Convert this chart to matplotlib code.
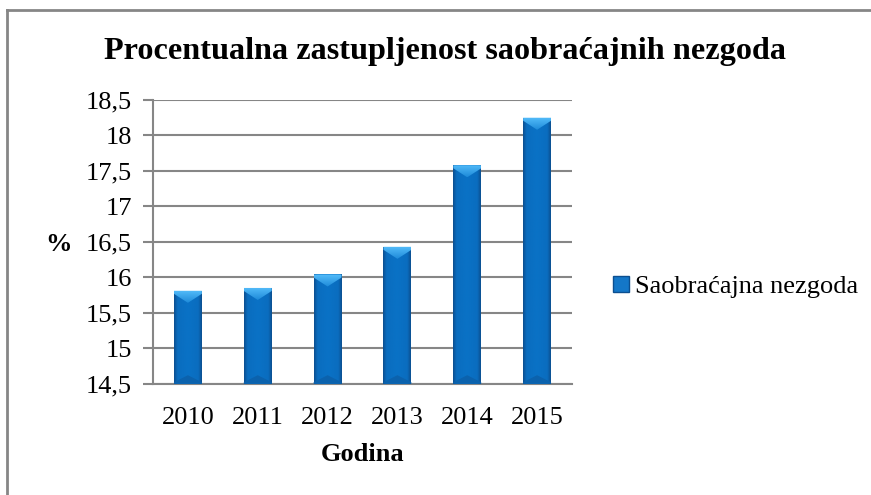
import numpy as np
import matplotlib
matplotlib.use('Agg')
import matplotlib.pyplot as plt
from matplotlib.colors import LinearSegmentedColormap
from matplotlib.lines import Line2D
from matplotlib.patches import Polygon, Patch

years = ['2010', '2011', '2012', '2013', '2014', '2015']
percent = [15.81, 15.85, 16.04, 16.43, 17.58, 18.25]
y_ticks = [14.5, 15, 15.5, 16, 16.5, 17, 17.5, 18, 18.5]
y_tick_labels = ['14,5', '15', '15,5', '16', '16,5', '17', '17,5', '18', '18,5']

plt.rcParams['font.family'] = ['Liberation Serif', 'DejaVu Serif']

fig = plt.figure(figsize=(8.71, 4.95), dpi=100)
ax = fig.add_axes([153 / 871, 1 - 383.7 / 495, (572 - 153) / 871, (383.7 - 100) / 495])

x = np.arange(len(years))
bars = ax.bar(x, np.array(percent) - y_ticks[0], bottom=y_ticks[0], width=0.4,
              color='#0a6fc2', edgecolor='none', zorder=3)

# shaded bar body: darker edges, flat middle
side = LinearSegmentedColormap.from_list(
    'side', [(0, '#0c4f90'), (0.12, '#0a6dbf'), (0.5, '#0a72c6'), (0.88, '#0a6dbf'), (1, '#0c4f90')])
topfade = LinearSegmentedColormap.from_list('topfade', ['#1e8ad9', '#54bdfa'])
grad = np.linspace(0, 1, 64).reshape(1, -1)
vgrad = np.linspace(0, 1, 32).reshape(-1, 1)
for b in bars:
    x0, y0 = b.get_x(), b.get_y()
    w, h = b.get_width(), b.get_height()
    im = ax.imshow(grad, cmap=side, aspect='auto', extent=[x0, x0 + w, y0, y0 + h],
                   zorder=4, interpolation='bicubic')
    im.set_clip_path(b)
    d = 0.17
    top = y0 + h
    cap = Polygon([[x0, top], [x0 + w, top], [x0 + w, top - d * 0.25],
                   [x0 + w / 2, top - d], [x0, top - d * 0.25]], closed=True,
                  facecolor='none', edgecolor='none', zorder=5)
    ax.add_patch(cap)
    im2 = ax.imshow(vgrad, cmap=topfade, aspect='auto', origin='lower',
                    extent=[x0, x0 + w, top - d, top], zorder=5, interpolation='bicubic')
    im2.set_clip_path(cap)
    ax.add_patch(Polygon([[x0, y0], [x0 + w, y0], [x0 + w, y0 + 0.02],
                          [x0 + w / 2, y0 + 0.12], [x0, y0 + 0.02]], closed=True,
                         facecolor='#0b62ad', edgecolor='none', zorder=5))

ax.set_xlim(-0.5, len(years) - 0.5)
ax.set_ylim(y_ticks[0], y_ticks[-1])
ax.set_yticks(y_ticks)
ax.set_yticklabels(y_tick_labels, fontsize=19)
ax.set_xticks(x)
ax.set_xticklabels(years, fontsize=19)
ax.tick_params(axis='x', length=0, pad=16.5)
ax.tick_params(axis='y', length=7, width=1.5, color='#868686', pad=8)
ax.grid(axis='y', color='#868686', linewidth=1.5, zorder=0)
for s in ['top', 'right']:
    ax.spines[s].set_visible(False)
ax.spines['left'].set_color('#868686')
ax.spines['left'].set_linewidth(1.5)
ax.spines['bottom'].set_color('#868686')
ax.spines['bottom'].set_linewidth(1.5)

ax.set_xlabel('Godina', fontsize=19, fontweight='bold', labelpad=10)
fig.text(58 / 871, 1 - 244 / 495, '%', fontsize=19, fontweight='bold', ha='center', va='center')
fig.text(445 / 871, 1 - 59 / 495, 'Procentualna zastupljenost saobraćajnih nezgoda',
         fontsize=23.2, fontweight='bold', ha='center', va='baseline')

fig.legend(handles=[Patch(facecolor='#1477c8', edgecolor='#0c4f90', label='Saobraćajna nezgoda')],
           loc='center left', bbox_to_anchor=(613 / 871, 1 - 287 / 495), frameon=False,
           fontsize=19, handlelength=0.6, handleheight=0.6, handletextpad=0.25,
           borderpad=0, borderaxespad=0)

# chart frame (only top and left visible in the crop)
fig.add_artist(Line2D([7 / 871, 7 / 871], [0, 1 - 10 / 495], color='#868686', linewidth=2))
fig.add_artist(Line2D([7 / 871, 1], [1 - 10 / 495, 1 - 10 / 495], color='#868686', linewidth=2))

fig.savefig('out.png', dpi=100)
